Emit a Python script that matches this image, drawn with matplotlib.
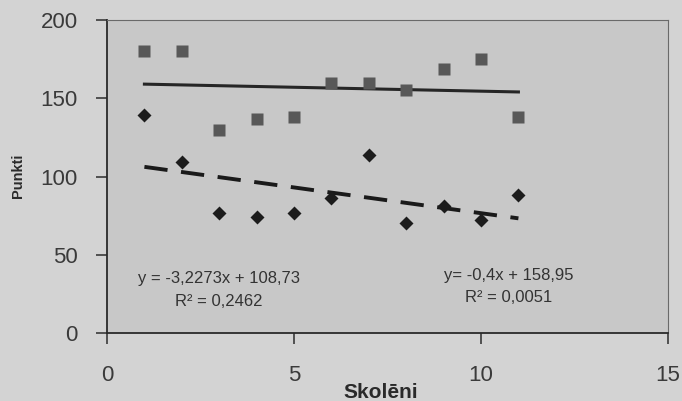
import numpy as np
import matplotlib.pyplot as plt

plt.rcParams['font.family'] = ['Liberation Sans', 'DejaVu Sans']

skoleni = [1, 2, 3, 4, 5, 6, 7, 8, 9, 10, 11]
punkti_a = [180, 180, 130, 137, 138, 160, 160, 155, 169, 175, 138]
punkti_b = [139, 109, 77, 74, 77, 86, 114, 70, 81, 72, 88]

eq_a = "y= -0,4x + 158,95\nR² = 0,0051"
eq_b = "y = -3,2273x + 108,73\nR² = 0,2462"

paper = '#d3d3d3'
fig = plt.figure(figsize=(6.82, 4.01), dpi=100, facecolor=paper)
ax = fig.add_axes([0.1569, 0.1696, 0.8226, 0.7804])
ax.set_facecolor('#c8c8c8')

x = np.array(skoleni)
# trend lines from a least squares fit
ka, ba = np.polyfit(x, punkti_a, 1)
kb, bb = np.polyfit(x, punkti_b, 1)
ax.plot(x, ka * x + ba, color='#262626', lw=2.2, zorder=2)
ax.plot(x, kb * x + bb, color='#1a1a1a', lw=2.8, ls=(0, (6, 3.5)), zorder=2)

ax.plot(skoleni, punkti_a, 's', color='#585858', ms=8.5, mec='none', zorder=3)
ax.plot(skoleni, punkti_b, 'D', color='#1c1c1c', ms=7, mec='none', zorder=3)

ax.text(3, 27.5, eq_b, ha='center', va='center', fontsize=12,
        color='#333333', linespacing=1.6)
ax.text(10.75, 29.5, eq_a, ha='center', va='center', fontsize=12,
        color='#333333', linespacing=1.6)

ax.set_xlim(0, 15)
ax.set_ylim(0, 200)
ax.set_xticks([0, 5, 10, 15])
ax.set_yticks([0, 50, 100, 150, 200])
ax.tick_params(axis='both', direction='out', length=8, width=1.2,
               labelsize=16, colors='#3a3a3a')
ax.tick_params(axis='x', pad=15)
ax.tick_params(axis='y', pad=13)

for s in ['top', 'right']:
    ax.spines[s].set_color('#6a6a6a')
    ax.spines[s].set_linewidth(0.8)
for s in ['left', 'bottom']:
    ax.spines[s].set_color('#2a2a2a')
    ax.spines[s].set_linewidth(1.3)

fig.text(0.558, 0.022, 'Skolēni', ha='center', va='center',
         fontsize=15, fontweight='bold', color='#2a2a2a')
fig.text(0.027, 0.561, 'Punkti', ha='center', va='center', rotation=90,
         fontsize=10.5, fontweight='bold', color='#2a2a2a')

fig.savefig('out.png', dpi=100, facecolor=paper)
